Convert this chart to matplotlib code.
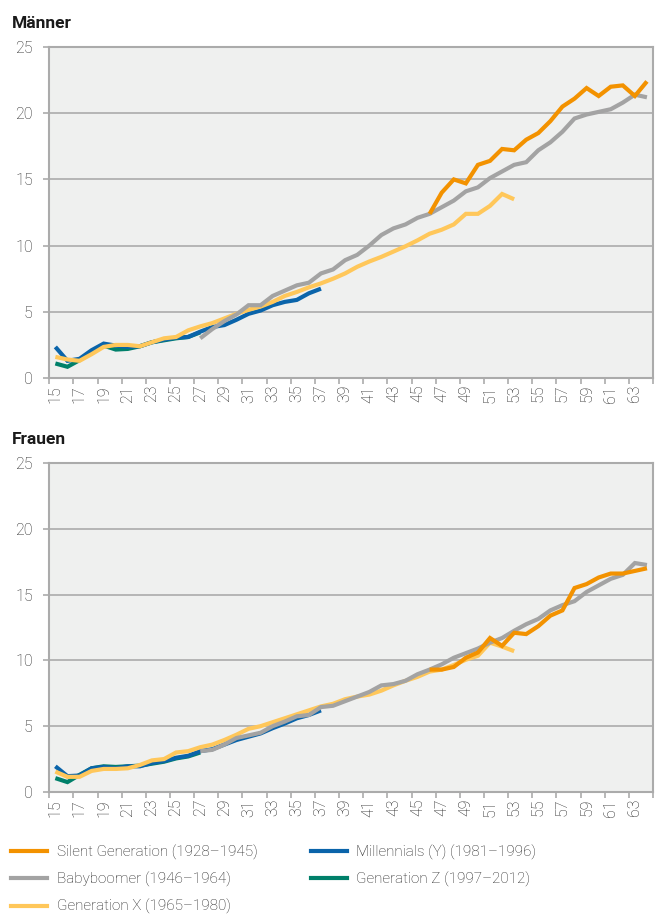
import numpy as np
import matplotlib
matplotlib.use('Agg')
import matplotlib.pyplot as plt
from matplotlib.lines import Line2D

plt.rcParams['font.family'] = ['Roboto', 'DejaVu Sans']

# ages on the x axis
ages_all = list(range(15, 65))
tick_ages = list(range(15, 64, 2))

# series start ages
silent_start = 46
boomer_start = 27
genx_start = 15
mill_start = 15
genz_start = 15

# Männer
m_silent = [12.4, 14.0, 15.0, 14.7, 16.1, 16.4, 17.3, 17.2, 18.0, 18.5, 19.4, 20.5,
            21.1, 21.9, 21.3, 22.0, 22.1, 21.3, 22.4]
m_boomer = [3.0, 3.7, 4.3, 4.8, 5.5, 5.5, 6.2, 6.6, 7.0, 7.2, 7.9, 8.2, 8.9, 9.3,
            10.0, 10.8, 11.3, 11.6, 12.1, 12.4, 12.9, 13.4, 14.1, 14.4, 15.1, 15.6,
            16.1, 16.3, 17.2, 17.8, 18.6, 19.6, 19.9, 20.1, 20.3, 20.8, 21.4, 21.2]
m_genx = [1.6, 1.4, 1.3, 1.8, 2.35, 2.5, 2.5, 2.4, 2.7, 3.0, 3.1, 3.6, 3.9, 4.15,
          4.5, 4.85, 5.15, 5.4, 5.75, 6.2, 6.5, 6.85, 7.15, 7.5, 7.9, 8.4, 8.8, 9.15,
          9.55, 9.95, 10.4, 10.9, 11.2, 11.6, 12.4, 12.4, 13.0, 13.9, 13.5]
m_mill = [2.35, 1.3, 1.45, 2.1, 2.6, 2.45, 2.35, 2.4, 2.7, 2.9, 3.05, 3.1, 3.5, 3.85,
          4.0, 4.4, 4.85, 5.1, 5.5, 5.75, 5.9, 6.4, 6.75]
m_genz = [1.1, 0.85, 1.35, 1.95, 2.45, 2.15, 2.2, 2.4, 2.7, 2.85, 3.0, 3.1, 3.45]

# Frauen
f_silent = [9.3, 9.3, 9.5, 10.2, 10.6, 11.7, 11.1, 12.1, 12.0, 12.6, 13.4, 13.8,
            15.5, 15.8, 16.3, 16.6, 16.6, 16.8, 17.0]
f_boomer = [3.1, 3.2, 3.6, 4.1, 4.3, 4.5, 5.0, 5.35, 5.75, 5.85, 6.45, 6.55, 6.9,
            7.25, 7.6, 8.1, 8.2, 8.45, 8.95, 9.3, 9.7, 10.2, 10.55, 10.9, 11.35, 11.7,
            12.25, 12.75, 13.15, 13.8, 14.2, 14.5, 15.2, 15.7, 16.2, 16.5, 17.4, 17.25]
f_genx = [1.55, 1.15, 1.15, 1.6, 1.75, 1.75, 1.8, 2.05, 2.4, 2.5, 3.0, 3.1, 3.4, 3.6,
          3.95, 4.35, 4.8, 5.0, 5.3, 5.6, 5.9, 6.2, 6.5, 6.7, 7.05, 7.25, 7.4, 7.7,
          8.1, 8.45, 8.75, 9.15, 9.3, 9.65, 10.05, 10.35, 11.35, 11.05, 10.7]
f_mill = [1.95, 1.2, 1.25, 1.8, 1.9, 1.8, 1.95, 1.95, 2.2, 2.35, 2.6, 2.75, 3.1,
          3.25, 3.6, 3.95, 4.2, 4.45, 4.85, 5.2, 5.6, 5.85, 6.2]
f_genz = [1.05, 0.75, 1.3, 1.8, 1.95, 1.9, 1.95, 2.0, 2.15, 2.3, 2.55, 2.7, 3.0]

labels = ['Silent Generation (1928\u20131945)', 'Babyboomer (1946\u20131964)',
          'Generation X (1965\u20131980)', 'Millennials (Y) (1981\u20131996)',
          'Generation Z (1997\u20132012)']
colors = ['#F39200', '#A3A3A3', '#FFC75A', '#0A64AA', '#00806A']
starts = [silent_start, boomer_start, genx_start, mill_start, genz_start]

men = [m_silent, m_boomer, m_genx, m_mill, m_genz]
women = [f_silent, f_boomer, f_genx, f_mill, f_genz]

# drawing order bottom -> top
draw_order = [4, 3, 2, 1, 0]

fig = plt.figure(figsize=(6.56, 9.18), dpi=100)
ax1 = fig.add_axes([0.0752, 0.5882, 0.9202, 0.3606])
ax2 = fig.add_axes([0.0752, 0.1373, 0.9202, 0.3583])

grid_col = '#ABABAB'
text_col = '#222222'

for ax, data, title in [(ax1, men, 'Männer'), (ax2, women, 'Frauen')]:
    ax.set_facecolor('#EFF0EF')
    for i in draw_order:
        vals = data[i]
        xs = np.arange(starts[i], starts[i] + len(vals))
        ax.plot(xs, vals, color=colors[i], lw=3.0, solid_capstyle='butt',
                solid_joinstyle='miter', zorder=3)
    ax.set_xlim(14.5, 64.5)
    ax.set_ylim(0, 25)
    ax.set_yticks([0, 5, 10, 15, 20, 25])
    ax.yaxis.grid(True, color=grid_col, lw=1.2)
    ax.set_axisbelow(True)
    ax.set_xticks(tick_ages)
    ax.set_xticklabels([str(a) for a in tick_ages], rotation=90, fontweight='light')
    ax.set_yticklabels([str(v) for v in [0, 5, 10, 15, 20, 25]], fontweight='light')
    ax.set_xticks(np.arange(14.5, 65, 2), minor=True)
    ax.tick_params(axis='x', which='major', length=0, pad=5,
                   labelsize=11.5, labelcolor=text_col)
    ax.tick_params(axis='x', which='minor', length=4, width=1.2, color=grid_col)
    ax.tick_params(axis='y', length=4, width=1.2, color=grid_col,
                   labelsize=11.5, labelcolor=text_col, pad=8)
    for s in ax.spines.values():
        s.set_color(grid_col)
        s.set_linewidth(1.5)
    ax.text(-0.062, 1.058, title, transform=ax.transAxes, fontsize=12.5,
            fontweight='bold', color='#1a1a1a', va='baseline', ha='left')

handles = [Line2D([0], [0], color=c, lw=3) for c in colors]
fig.legend(handles, labels, loc='upper left', bbox_to_anchor=(0.008, 0.0862),
           ncol=2, frameon=False, handlelength=2.35,
           handletextpad=0.65, columnspacing=3.45, labelspacing=0.78,
           labelcolor=text_col, borderaxespad=0.0,
           prop={'family': ['Roboto', 'DejaVu Sans'], 'size': 11, 'weight': 'light'})

fig.savefig('out.png', dpi=100)
